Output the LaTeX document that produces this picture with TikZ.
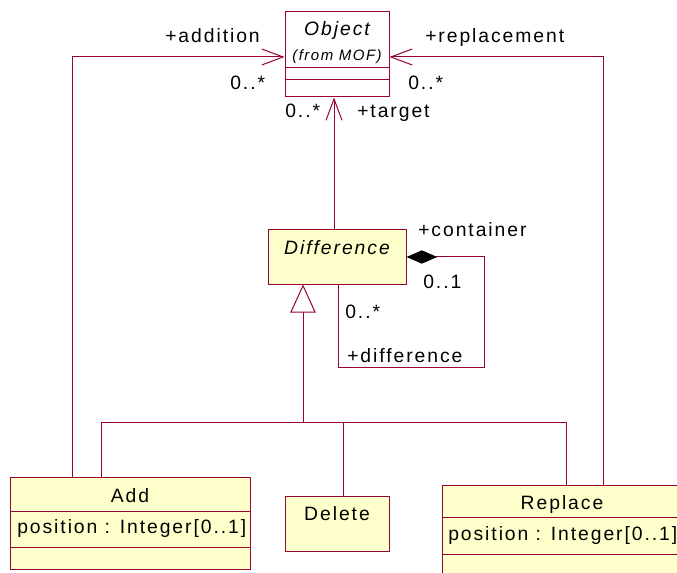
\documentclass[tikz,border=0pt]{standalone}
\usepackage{fontspec}
\setmainfont{Liberation Sans}[LetterSpace=10]
\usetikzlibrary{arrows.meta,fit}
\definecolor{umlline}{RGB}{153,0,51}
\definecolor{umlfill}{RGB}{255,255,204}
\newcommand{\bigf}{\fontsize{14.5}{17}\selectfont}
\newcommand{\smallf}{\fontsize{11.25}{13}\selectfont}
\begin{document}
\begin{tikzpicture}[x=0.75pt,y=-0.75pt,
  line/.style={draw=umlline,line width=0.75pt},
  cls/.style={line, fill=umlfill, inner sep=0pt},
  lbl/.style={inner sep=0pt, font=\bigf, anchor=base west},
  ttl/.style={inner sep=0pt, font=\bigf, anchor=base},
  barb/.style={-{Straight Barb[length=16pt,width=12pt]}}
]
\useasboundingbox (0,0) rectangle (677,573);
\clip (0,0) rectangle (677,573);

% classes
\node[cls, fill=white, fit={(285,12) (389,97)}] (obj) {};
\draw[line] (obj.west |- 0,68) -- (obj.east |- 0,68);
\draw[line] (obj.west |- 0,80) -- (obj.east |- 0,80);
\node[ttl, font=\bigf\itshape] (objname) at (337,36) {Object};
\node[ttl, font=\smallf\itshape] (objfrom) at (337,61) {(from MOF)};

\node[cls, fit={(268,230) (406,284)}] (diff) {};
\node[ttl, font=\bigf\itshape] (diffname) at (337,255) {Difference};

\node[cls, fit={(10,477) (250,569)}] (add) {};
\draw[line] (add.west |- 0,511) -- (add.east |- 0,511);
\draw[line] (add.west |- 0,547) -- (add.east |- 0,547);
\node[ttl] (addname) at (130,502) {Add};
\node[lbl] (addpos) at (17,533) {position : Integer[0..1]};

\node[cls, fit={(285,496) (389,551)}] (del) {};
\node[ttl] (delname) at (337,520) {Delete};

\node[cls, fit={(442,485) (682,580)}] (rep) {};
\draw[line] (rep.west |- 0,517) -- (rep.east |- 0,517);
\draw[line] (rep.west |- 0,554) -- (rep.east |- 0,554);
\node[ttl] (repname) at (562,509) {Replace};
\node[lbl] (reppos) at (448,540) {position : Integer[0..1]};

% associations to Object
\coordinate (addbend) at (72,57);
\draw[line,barb] (add.north -| addbend) -- (addbend) -- (obj.west |- addbend);
\coordinate (repbend) at (603,57);
\draw[line,barb] (rep.north -| repbend) -- (repbend) -- (obj.east |- repbend);
\draw[line,barb] (diff.north -| 334,0) -- (obj.south -| 334,0);

\node[lbl] (laddition) at (165,43) {+addition};
\node[lbl] (laddm) at (230,90) {0..*};
\node[lbl] (lreplacement) at (425,43) {+replacement};
\node[lbl] (lrepm) at (408,90) {0..*};
\node[lbl] (ltargetm) at (285,118) {0..*};
\node[lbl] (ltarget) at (357,118) {+target};

% composition (self)
\coordinate (c1) at (484,257);
\coordinate (c2) at (484,367);
\coordinate (c3) at (338,367);
\draw[line, {Diamond[black,length=23pt,width=10pt]}-] (diff.east |- c1) -- (c1) -- (c2) -- (c3) -- (diff.south -| c3);
\node[lbl] (lcontainer) at (418,237) {+container};
\node[lbl] (lcontm) at (423,288) {0..1};
\node[lbl] (ldiffm) at (345,318) {0..*};
\node[lbl] (ldifference) at (347,362) {+difference};

% generalization
\coordinate (gj) at (303,422);
\draw[line, -{Triangle[fill=white,length=21pt,width=19pt]}] (gj) -- (diff.south -| gj);
\draw[line] (add.north -| 101,0) -- (101,422) -- (566,422) -- (rep.north -| 566,0);
\draw[line] (343,422) -- (del.north -| 343,0);
\end{tikzpicture}
\end{document}
